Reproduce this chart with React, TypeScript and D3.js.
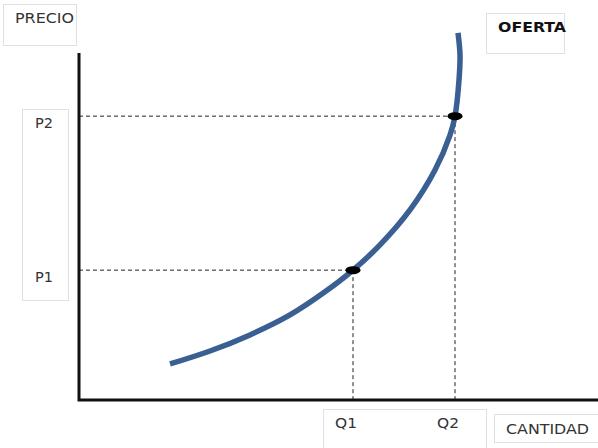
import * as d3 from "d3";

const W = 598;
const H = 448;

// supply curve (quantity, price)
const CURVE_Q = [1.82, 2.62, 3.42, 4.22, 4.92, 5.48, 6.02, 6.62, 7.12, 7.42, 7.52, 7.6, 7.62, 7.58];
const CURVE_P = [1.03, 1.4, 1.86, 2.43, 3.09, 3.71, 4.43, 5.43, 6.57, 7.57, 8.11, 9.14, 9.86, 10.49];

const POINT_NAMES_Q = ["Q1", "Q2"];
const POINT_NAMES_P = ["P1", "P2"];
const POINT_Q = [5.48, 7.52];
const POINT_P = [3.71, 8.11];

const FONT = "'DejaVu Sans', Verdana, sans-serif";
const BOX = "#e0e0e0";

export default function App() {
  const x = d3.scaleLinear().domain([0, 10]).range([79, 579]);
  const y = d3.scaleLinear().domain([0, 10]).range([400, 50]);

  const pts: [number, number][] = CURVE_Q.map((q, i) => [q, CURVE_P[i]]);
  const line = d3
    .line<[number, number]>()
    .x((d) => x(d[0]))
    .y((d) => y(d[1]))
    .curve(d3.curveCatmullRom.alpha(0.5));

  return (
    <svg
      width={W}
      height={H}
      style={{ position: "absolute", left: 0, top: 0, background: "#fff" }}
      fontFamily={FONT}
    >
      {/* label boxes */}
      <rect x={3.5} y={4.5} width={73} height={41} fill="#fff" stroke={BOX} />
      <rect x={486.5} y={13.5} width={78} height={40} fill="#fff" stroke={BOX} />
      <rect x={22.5} y={109.5} width={46} height={191} fill="#fff" stroke={BOX} />
      <rect x={323.5} y={409.5} width={163} height={45} fill="#fff" stroke={BOX} />
      <rect x={494.5} y={414.5} width={110} height={28} fill="#fff" stroke={BOX} />

      <text x={15} y={23} fontSize={13.5} fill="#333" textLength={59} lengthAdjust="spacingAndGlyphs">
        PRECIO
      </text>
      <text x={498} y={32} fontSize={13.5} fontWeight="bold" fill="#111" textLength={68} lengthAdjust="spacingAndGlyphs">
        OFERTA
      </text>
      <text x={506} y={434} fontSize={14} fill="#333" textLength={83} lengthAdjust="spacingAndGlyphs">
        CANTIDAD
      </text>

      {/* guide lines */}
      {POINT_Q.map((q, i) => (
        <g key={i} stroke="#222" strokeWidth={1} strokeDasharray="4,3">
          <line x1={x(0)} x2={x(q)} y1={y(POINT_P[i])} y2={y(POINT_P[i])} />
          <line x1={x(q)} x2={x(q)} y1={y(POINT_P[i])} y2={y(0)} />
        </g>
      ))}

      {/* axes */}
      <path d={`M${x(0)},53V${y(0)}H${W}`} fill="none" stroke="#111" strokeWidth={3} />

      {/* supply curve */}
      <path d={line(pts) ?? ""} fill="none" stroke="#3a5f93" strokeWidth={5.5} strokeLinecap="butt" />

      {POINT_Q.map((q, i) => (
        <ellipse key={i} cx={x(q)} cy={y(POINT_P[i])} rx={7.5} ry={4} fill="#000" />
      ))}

      {POINT_NAMES_P.map((n, i) => (
        <text key={n} x={35} y={y(POINT_P[i]) + 12} fontSize={14} fill="#333" textLength={18} lengthAdjust="spacingAndGlyphs">
          {n}
        </text>
      ))}
      {POINT_NAMES_Q.map((n, i) => (
        <text key={n} x={x(POINT_Q[i]) - 18} y={428} fontSize={14} fill="#333" textLength={22} lengthAdjust="spacingAndGlyphs">
          {n}
        </text>
      ))}
    </svg>
  );
}
